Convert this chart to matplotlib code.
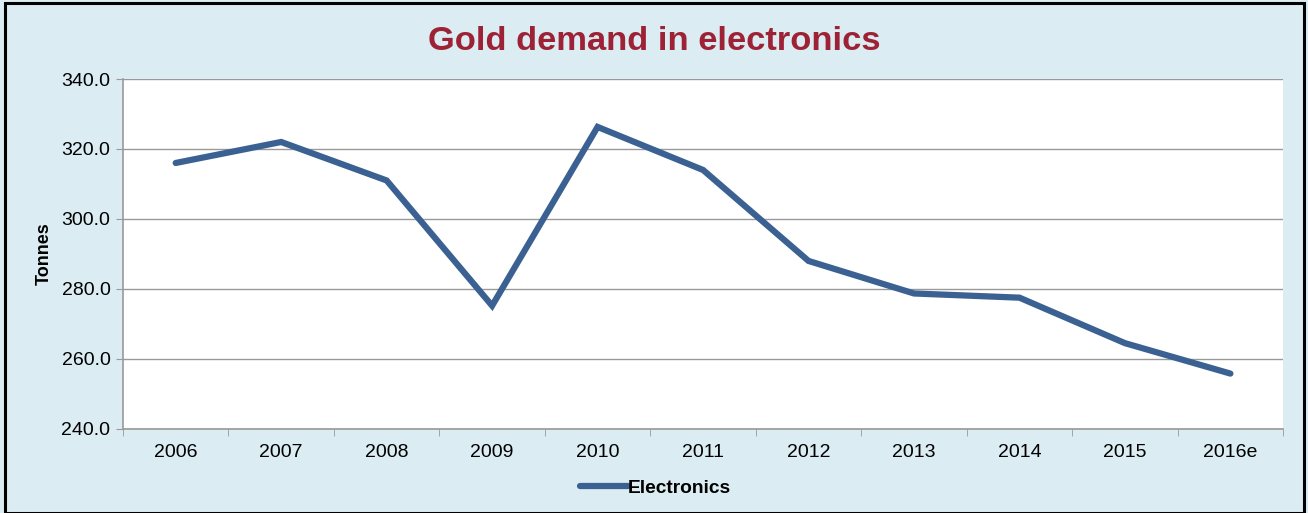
import numpy as np
import matplotlib.pyplot as plt
from matplotlib.patches import Rectangle

years = ["2006", "2007", "2008", "2009", "2010", "2011", "2012", "2013", "2014", "2015", "2016e"]
electronics = [316.0, 322.0, 311.0, 275.2, 326.3, 314.0, 288.0, 278.7, 277.5, 264.5, 255.8]

bg = "#DBECF2"
line_color = "#3B6193"

plt.rcParams["font.family"] = ["Liberation Sans", "DejaVu Sans"]

fig = plt.figure(figsize=(13.08, 5.13), dpi=100)
fig.patch.set_facecolor(bg)
fig.patches.append(Rectangle((0.004, 0.0), 0.993, 0.994, transform=fig.transFigure,
                             fill=False, edgecolor="black", linewidth=2.2))

ax = fig.add_axes([0.094, 0.164, 0.887, 0.682])
ax.set_facecolor("white")
x = np.arange(len(years))
ax.plot(x, electronics, color=line_color, linewidth=4.5, solid_capstyle="round",
        solid_joinstyle="miter", label="Electronics")

ax.set_xlim(-0.5, len(years) - 0.5)
ax.set_ylim(240, 340)
ax.set_yticks(np.arange(240, 341, 20))
ax.set_yticklabels([f"{v:.1f}" for v in np.arange(240, 341, 20)], fontsize=14)
ax.set_xticks(x)
ax.set_xticklabels(years, fontsize=14)
ax.set_xticks(np.arange(-0.5, len(years), 1), minor=True)
ax.tick_params(axis="x", which="major", length=0, pad=11)
ax.tick_params(axis="x", which="minor", length=5, color="#999999", direction="out")
ax.tick_params(axis="y", length=5, color="#999999", direction="out", pad=4)
ax.grid(axis="y", color="#999999", linewidth=1)
ax.set_axisbelow(True)
for s in ["top", "right"]:
    ax.spines[s].set_visible(False)
for s in ["left", "bottom"]:
    ax.spines[s].set_color("#999999")
    ax.spines[s].set_linewidth(1.2)

ax.set_ylabel("Tonnes", fontsize=13, fontweight="bold", labelpad=6)
fig.text(0.5, 0.92, "Gold demand in electronics", ha="center", va="center",
         fontsize=24.8, fontweight="bold", color="#9E2236")

leg = ax.legend(loc="center", bbox_to_anchor=(0.459, -0.169), frameon=False,
                prop={"weight": "bold", "size": 13.8}, handlelength=2.5, handletextpad=0.0)

fig.savefig("out.png", dpi=100, facecolor=bg)
